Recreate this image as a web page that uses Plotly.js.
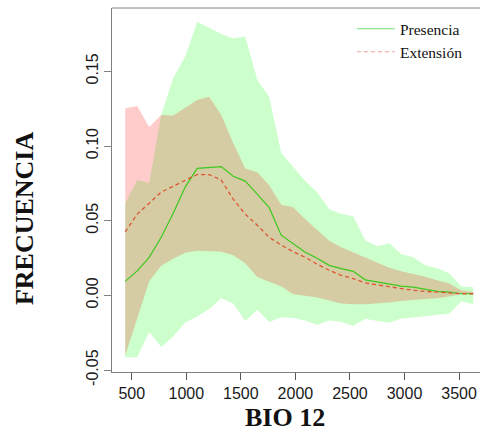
<!DOCTYPE html>
<html>
<head>
<meta charset="utf-8">
<script src="https://cdn.plot.ly/plotly-3.0.1.min.js"></script>
<style>
  html, body { margin: 0; padding: 0; background: #ffffff; }
  #chart { width: 480px; height: 434px; }
</style>
</head>
<body>
<div id="chart"></div>
<script>
// BIO 12 (annual precipitation) bin centres
const bio12 = [440, 550, 660, 770, 880, 990, 1100, 1210, 1320, 1430,
               1540, 1650, 1760, 1870, 1980, 2090, 2200, 2310, 2420, 2530,
               2640, 2750, 2860, 2970, 3080, 3190, 3300, 3410, 3520, 3630];

// Presencia: mean frequency and envelope
const presenciaMedia = [0.0094, 0.0164, 0.0255, 0.0389, 0.0550, 0.0725, 0.0850, 0.0856, 0.0862, 0.0798,
                        0.0765, 0.0678, 0.0587, 0.0403, 0.0349, 0.0289, 0.0248, 0.0201, 0.0179, 0.0161,
                        0.0104, 0.0089, 0.0079, 0.0062, 0.0055, 0.0040, 0.0027, 0.0022, 0.0011, 0.0011];
const presenciaSup = [0.0616, 0.0772, 0.0752, 0.1208, 0.1456, 0.1600, 0.1832, 0.1790, 0.1750, 0.1720,
                      0.1733, 0.1443, 0.1330, 0.0953, 0.0859, 0.0765, 0.0691, 0.0577, 0.0544, 0.0530,
                      0.0369, 0.0329, 0.0349, 0.0275, 0.0255, 0.0201, 0.0181, 0.0148, 0.0060, 0.0054];
const presenciaInf = [-0.0414, -0.0414, -0.0246, -0.0346, -0.0275, -0.0181, -0.0141, -0.0091, -0.0020, -0.0054,
                      -0.0171, -0.0097, -0.0179, -0.0146, -0.0151, -0.0168, -0.0198, -0.0168, -0.0179, -0.0205,
                      -0.0156, -0.0171, -0.0181, -0.0154, -0.0148, -0.0138, -0.0131, -0.0121, -0.0040, -0.0060];

// Extensión: mean frequency and envelope
const extensionMedia = [0.0425, 0.0544, 0.0617, 0.0691, 0.0731, 0.0772, 0.0809, 0.0809, 0.0772, 0.0644,
                        0.0544, 0.0470, 0.0389, 0.0336, 0.0292, 0.0255, 0.0208, 0.0168, 0.0134, 0.0112,
                        0.0084, 0.0070, 0.0057, 0.0045, 0.0034, 0.0027, 0.0021, 0.0015, 0.0011, 0.0011];
const extensionSup = [0.1253, 0.1268, 0.1127, 0.1208, 0.1204, 0.1255, 0.1308, 0.1329, 0.1208, 0.1020,
                      0.0850, 0.0825, 0.0738, 0.0607, 0.0590, 0.0510, 0.0436, 0.0366, 0.0322, 0.0289,
                      0.0252, 0.0218, 0.0185, 0.0161, 0.0144, 0.0124, 0.0101, 0.0079, 0.0034, 0.0023];
const extensionInf = [-0.0403, -0.0154, 0.0094, 0.0198, 0.0245, 0.0285, 0.0299, 0.0295, 0.0292, 0.0268,
                      0.0215, 0.0123, 0.0089, 0.0060, 0.0007, -0.0003, -0.0015, -0.0034, -0.0054, -0.0060,
                      -0.0060, -0.0054, -0.0047, -0.0038, -0.0030, -0.0025, -0.0020, -0.0007, 0.0010, 0.0011];

const xTicks = [500, 1000, 1500, 2000, 2500, 3000, 3500];
const yTicks = [-0.05, 0.00, 0.05, 0.10, 0.15];

// closed polygon: upper edge left->right, lower edge right->left
function band(x, upper, lower) {
  return {
    x: x.concat(x.slice().reverse()),
    y: upper.concat(lower.slice().reverse())
  };
}

const gBand = band(bio12, presenciaSup, presenciaInf);
const rBand = band(bio12, extensionSup, extensionInf);

const traces = [
  { x: gBand.x, y: gBand.y, type: 'scatter', mode: 'lines', fill: 'toself',
    fillcolor: 'rgba(0,255,0,0.2)', line: { width: 0 }, showlegend: false, hoverinfo: 'skip' },
  { x: rBand.x, y: rBand.y, type: 'scatter', mode: 'lines', fill: 'toself',
    fillcolor: 'rgba(255,0,0,0.2)', line: { width: 0 }, showlegend: false, hoverinfo: 'skip' },
  { x: bio12, y: presenciaMedia, type: 'scatter', mode: 'lines', name: 'Presencia',
    line: { color: '#3cc81e', width: 1.2 }, showlegend: false },
  { x: bio12, y: extensionMedia, type: 'scatter', mode: 'lines', name: 'Extensión',
    line: { color: '#dc5634', width: 1.3, dash: '4px,3px' }, showlegend: false },
  // legend keys
  { x: [null], y: [null], type: 'scatter', mode: 'lines', name: 'Presencia',
    line: { color: '#8ee88e', width: 1.2 } },
  { x: [null], y: [null], type: 'scatter', mode: 'lines', name: 'Extensión',
    line: { color: '#f4a0a0', width: 1.2, dash: '4px,3px' } }
];

const tickFont = { family: 'Liberation Sans, Arial, sans-serif', size: 16, color: '#1a1a1a' };
const titleFont = { family: 'Liberation Serif, Times New Roman, serif', size: 26, color: '#111111' };

const layout = {
  width: 480,
  height: 434,
  margin: { l: 112, r: 0, t: 8, b: 62, pad: 0 },
  paper_bgcolor: '#ffffff',
  plot_bgcolor: '#ffffff',
  showlegend: true,
  legend: {
    x: 0.652, y: 0.989, xanchor: 'left', yanchor: 'top',
    itemwidth: 38,
    bgcolor: 'rgba(0,0,0,0)', borderwidth: 0,
    font: { family: 'Liberation Serif, Times New Roman, serif', size: 15.5, color: '#111111' }
  },
  xaxis: {
    range: [319, 3692],
    tickvals: xTicks,
    ticktext: xTicks.map(String),
    ticks: 'outside', ticklen: 7, tickcolor: '#555555', tickwidth: 1,
    showline: true, linecolor: '#808080', linewidth: 1,
    showgrid: false, zeroline: false,
    tickfont: tickFont
  },
  yaxis: {
    range: [-0.0513, 0.1924],
    tickvals: yTicks,
    ticktext: yTicks.map(v => v.toFixed(2)),
    tickangle: -90,
    ticks: 'outside', ticklen: 7, tickcolor: '#808080', tickwidth: 1,
    showline: true, linecolor: '#808080', linewidth: 1,
    showgrid: false, zeroline: false,
    tickfont: tickFont
  },
  shapes: [
    { type: 'line', xref: 'paper', yref: 'paper', x0: 0, x1: 1, y0: 1, y1: 1,
      line: { color: '#808080', width: 1 } }
  ],
  annotations: [
    { text: '<b>FRECUENCIA</b>', xref: 'paper', yref: 'paper', x: -0.239, y: 0.423,
      xanchor: 'center', yanchor: 'middle', textangle: -90, showarrow: false, font: titleFont },
    { text: '<b>BIO 12</b>', xref: 'paper', yref: 'paper', x: 0.470, y: -0.124,
      xanchor: 'center', yanchor: 'middle', showarrow: false, font: titleFont }
  ]
};

Plotly.newPlot('chart', traces, layout, { staticPlot: true, displayModeBar: false });
</script>
</body>
</html>
